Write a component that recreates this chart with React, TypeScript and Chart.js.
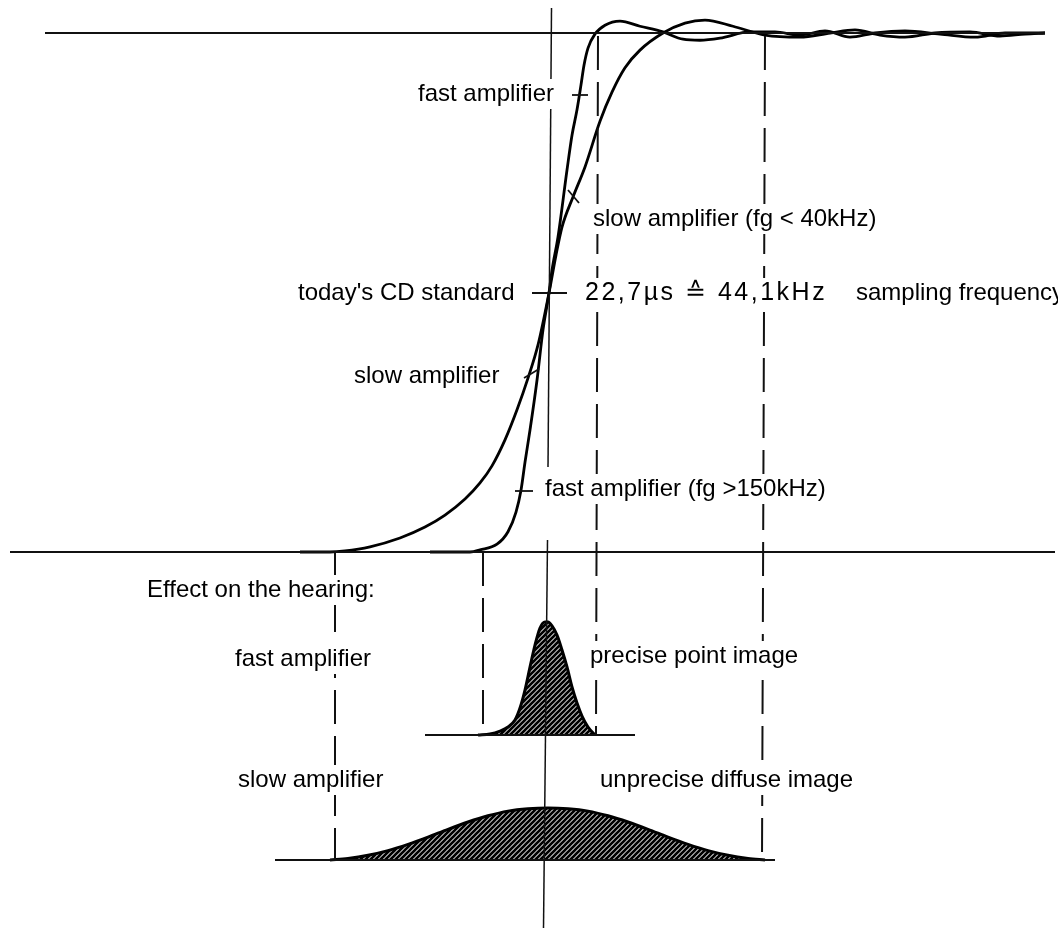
import React, { useEffect, useRef } from "react";
import { Chart, registerables } from "chart.js";

Chart.register(...registerables);

const W = 1058;
const H = 928;

// ---------- data (time offset t relative to sampling instant, arbitrary units) ----------
// step responses (amplitude 0..1)
const slowStepT = [-248, -218, -203, -178, -148, -123, -103, -83, -68, -56, -43, -31, -20, -10, 1, 8, 14, 25, 37, 52, 64, 77, 92, 115, 137, 157, 185, 217, 252, 282, 307, 332, 357, 387, 422, 452, 477, 497];
const slowStepA = [0, 0, 0.002, 0.01, 0.027, 0.048, 0.071, 0.102, 0.133, 0.166, 0.216, 0.274, 0.335, 0.399, 0.499, 0.572, 0.626, 0.684, 0.742, 0.83, 0.886, 0.933, 0.967, 1.0, 1.019, 1.025, 1.013, 0.996, 0.992, 1.0, 1.006, 0.996, 0.992, 1.0, 1.002, 0.994, 0.998, 1.0];

const fastStepT = [-118, -78, -68, -51, -40, -32, -27, -23, -18, -11, -5, 1, 4, 10, 19, 24, 29, 33, 36, 40, 47, 57, 72, 92, 115, 135, 152, 172, 202, 227, 252, 277, 302, 327, 357, 392, 427, 457, 497];
const fastStepA = [0, 0, 0.004, 0.015, 0.039, 0.077, 0.119, 0.173, 0.235, 0.331, 0.428, 0.499, 0.543, 0.607, 0.736, 0.803, 0.852, 0.9, 0.938, 0.971, 0.998, 1.015, 1.023, 1.013, 1.002, 0.988, 0.986, 0.99, 1.002, 1.002, 0.996, 1.004, 0.992, 1.0, 1.004, 0.998, 0.992, 1.0, 1.0];

// effect on hearing (relative image spread, 0..1)
const fastBellT = [-70, -58, -48, -40, -33, -28, -23, -18, -13, -8, -3, 0, 4, 9, 14, 19, 24, 29, 34, 40, 47];
const fastBellV = [0, 0.009, 0.035, 0.071, 0.133, 0.239, 0.398, 0.602, 0.796, 0.947, 1.0, 1.0, 0.965, 0.885, 0.752, 0.602, 0.425, 0.283, 0.168, 0.071, 0];

const slowBellT = [-218, -200, -180, -160, -140, -120, -100, -80, -60, -40, -20, 0, 20, 40, 60, 80, 100, 120, 140, 160, 180, 200, 217];
const slowBellV = [0, 0.03, 0.09, 0.18, 0.3, 0.44, 0.59, 0.73, 0.85, 0.94, 0.985, 1, 0.985, 0.94, 0.85, 0.73, 0.59, 0.44, 0.3, 0.18, 0.09, 0.03, 0];

// text labels
const labelTexts = [
  "fast amplifier",
  "slow amplifier (fg < 40kHz)",
  "today's CD standard",
  "22,7\u00b5s \u2259 44,1kHz",
  "sampling frequency",
  "slow amplifier",
  "fast amplifier (fg >150kHz)",
  "Effect on the hearing:",
  "fast amplifier",
  "precise point image",
  "slow amplifier",
  "unprecise diffuse image",
];

// ---------- layout (guide coordinates: t horizontally, page units vertically) ----------
const STEP_BASE = 552, STEP_H = 519;
const FAST_BASE = 735, FAST_H = 113;
const SLOW_BASE = 860, SLOW_H = 52;
const T_MIN = -548, T_MAX = 510;

const labelPos = [
  { t: -130, y: 94 },
  { t: 45, y: 219 },
  { t: -250, y: 293 },
  { t: 37, y: 293, wide: true },
  { t: 308, y: 293 },
  { t: -194, y: 376 },
  { t: -3, y: 489 },
  { t: -401, y: 590 },
  { t: -313, y: 659 },
  { t: 42, y: 656 },
  { t: -310, y: 780 },
  { t: 52, y: 780 },
];

type Seg = { t: number[]; y: number[]; dash?: number[]; w?: number };
const guideSegs: Seg[] = [
  { t: [-503, 497], y: [33, 33], w: 2 },
  { t: [-538, 507], y: [552, 552], w: 2 },
  { t: [-123, 87], y: [735, 735], w: 2 },
  { t: [-273, 227], y: [860, 860], w: 2 },
  { t: [3.5, 0], y: [8, 467], w: 1.5 },
  { t: [-0.5, -4.5], y: [540, 928], w: 1.5 },
  { t: [-65, -65], y: [552, 735], dash: [34, 12], w: 2 },
  { t: [50, 48], y: [36, 735], dash: [34, 12], w: 2 },
  { t: [217, 214], y: [36, 860], dash: [34, 12], w: 2 },
  { t: [-213, -213], y: [552, 860], dash: [34, 12], w: 2 },
  // small marker strokes on the curves
  { t: [24, 40], y: [95, 95], w: 1.8 },
  { t: [20, 31], y: [190, 203], w: 1.8 },
  { t: [-16, 19], y: [293, 293], w: 1.8 },
  { t: [-24, -9], y: [378, 369], w: 1.8 },
  { t: [-33, -15], y: [491, 491], w: 1.8 },
];

function pts(xs: number[], ys: number[]) {
  return xs.map((x, i) => ({ x, y: ys[i] }));
}

function hatch(): CanvasPattern | string {
  const c = document.createElement("canvas");
  c.width = 5;
  c.height = 5;
  const g = c.getContext("2d");
  if (!g) return "#444";
  g.fillStyle = "#ffffff";
  g.fillRect(0, 0, 5, 5);
  g.strokeStyle = "#000000";
  g.lineWidth = 2.7;
  g.beginPath();
  g.moveTo(-1, 6);
  g.lineTo(6, -1);
  g.moveTo(-1, 1);
  g.lineTo(1, -1);
  g.moveTo(4, 6);
  g.lineTo(6, 4);
  g.stroke();
  const p = g.createPattern(c, "repeat");
  return p || "#444";
}

const FONT = "24px 'Liberation Sans', Arial, sans-serif";
const WIDE_FONT = "25px 'Liberation Sans', Arial, sans-serif";

const textPlugin = {
  id: "diagramTexts",
  afterDatasetsDraw(chart: any) {
    const { ctx, scales } = chart;
    const sx = scales.x;
    const sy = scales.yg;
    ctx.save();
    ctx.textBaseline = "middle";
    ctx.textAlign = "left";
    labelTexts.forEach((txt, i) => {
      const p = labelPos[i];
      const x = sx.getPixelForValue(p.t);
      const y = sy.getPixelForValue(p.y);
      if (p.wide) {
        ctx.font = WIDE_FONT;
        (ctx as any).letterSpacing = "2.5px";
      } else {
        ctx.font = FONT;
        (ctx as any).letterSpacing = "0px";
      }
      const w = ctx.measureText(txt).width;
      ctx.fillStyle = "#fff";
      ctx.fillRect(x - 3, y - 15, w + 6, 30);
      ctx.fillStyle = "#000";
      ctx.fillText(txt, x, y);
    });
    ctx.restore();
  },
};

export default function App() {
  const ref = useRef<HTMLCanvasElement | null>(null);
  useEffect(() => {
    if (!ref.current) return;
    const pattern = hatch();
    const datasets: any[] = [];
    guideSegs.forEach((s) => {
      datasets.push({
        data: pts(s.t, s.y),
        yAxisID: "yg",
        borderColor: "#111",
        borderWidth: s.w || 2,
        borderDash: s.dash || [],
        pointRadius: 0,
        tension: 0,
        fill: false,
      });
    });
    datasets.push({
      data: pts(fastBellT, fastBellV),
      yAxisID: "yf",
      borderColor: "#000",
      borderWidth: 3,
      backgroundColor: pattern,
      fill: "origin",
      pointRadius: 0,
      cubicInterpolationMode: "monotone",
    });
    datasets.push({
      data: pts(slowBellT, slowBellV),
      yAxisID: "ys",
      borderColor: "#000",
      borderWidth: 3,
      backgroundColor: pattern,
      fill: "origin",
      pointRadius: 0,
      cubicInterpolationMode: "monotone",
    });
    datasets.push({
      data: pts(slowStepT, slowStepA),
      yAxisID: "ya",
      borderColor: "#000",
      borderWidth: 2.8,
      pointRadius: 0,
      fill: false,
      cubicInterpolationMode: "monotone",
    });
    datasets.push({
      data: pts(fastStepT, fastStepA),
      yAxisID: "ya",
      borderColor: "#000",
      borderWidth: 2.8,
      pointRadius: 0,
      fill: false,
      cubicInterpolationMode: "monotone",
    });

    const chart = new Chart(ref.current, {
      type: "line",
      data: { datasets },
      options: {
        animation: false,
        responsive: false,
        devicePixelRatio: 1,
        layout: { padding: 0 },
        plugins: { legend: { display: false }, tooltip: { enabled: false } },
        events: [],
        scales: {
          x: { type: "linear", min: T_MIN, max: T_MAX, display: false },
          yg: { type: "linear", min: 0, max: H, reverse: true, display: false },
          ya: { type: "linear", min: (STEP_BASE - H) / STEP_H, max: STEP_BASE / STEP_H, display: false },
          yf: { type: "linear", min: (FAST_BASE - H) / FAST_H, max: FAST_BASE / FAST_H, display: false },
          ys: { type: "linear", min: (SLOW_BASE - H) / SLOW_H, max: SLOW_BASE / SLOW_H, display: false },
        },
      } as any,
      plugins: [textPlugin],
    });
    return () => chart.destroy();
  }, []);

  return (
    <div style={{ position: "absolute", left: 0, top: 0, width: W, height: H, background: "#fff" }}>
      <canvas ref={ref} width={W} height={H} style={{ display: "block" }} />
    </div>
  );
}
